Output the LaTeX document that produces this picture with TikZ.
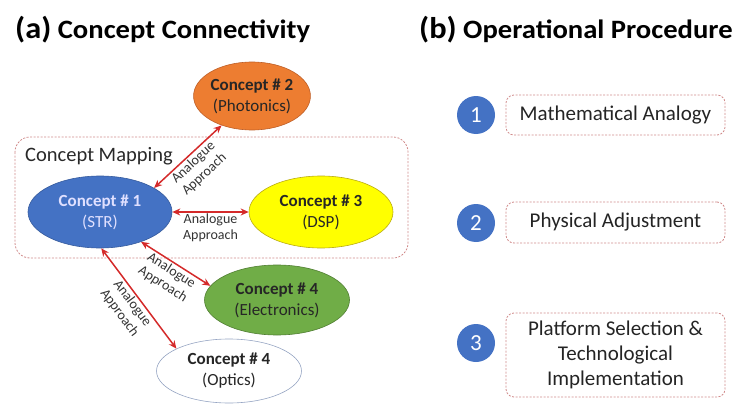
\documentclass[tikz,border=0pt]{standalone}
\usepackage{fontspec}
\setmainfont{Carlito}
\newfontfamily\headfont[FakeStretch=1.08]{Carlito}
\usetikzlibrary{shapes.geometric,arrows.meta}

\definecolor{stepblue}{HTML}{4472C4}
\definecolor{dashred}{HTML}{D08A8A}
\definecolor{linkred}{HTML}{D42A2A}
\definecolor{labelgray}{HTML}{333333}
\definecolor{orangefill}{RGB}{237,125,49}
\definecolor{orangeline}{RGB}{190,95,40}
\definecolor{yellowfill}{RGB}{255,255,0}
\definecolor{yellowline}{RGB}{185,170,20}
\definecolor{greenfill}{RGB}{112,173,71}
\definecolor{greenline}{RGB}{80,126,50}
\definecolor{opticsline}{RGB}{150,165,195}

\tikzset{
  concept/.style={ellipse, draw, line width=0.6pt, inner sep=0pt, align=center,
    font=\fontsize{17}{21}\selectfont},
  mapbox/.style={draw=dashred, line width=0.8pt, dash pattern=on 2pt off 1.5pt},
  stepbox/.style={mapbox, rounded corners=8pt, minimum width=219pt, align=center,
    text=labelgray!70!black, font=\fontsize{21}{25}\selectfont},
  stepnum/.style={circle, fill=stepblue, minimum size=38pt, inner sep=0pt,
    text=white, font=\fontsize{23}{23}\selectfont},
  link/.style={draw=linkred, line width=1.5pt,
    {Stealth[length=8pt,width=7pt]}-{Stealth[length=8pt,width=7pt]}},
  linklabel/.style={sloped, below, inner sep=1.5pt, align=center, text=labelgray,
    font=\fontsize{14}{16}\selectfont},
  heading/.style={anchor=base west, font=\headfont\bfseries\fontsize{26.5}{27}\selectfont}
}

\begin{document}
\begin{tikzpicture}[x=1pt, y=-1pt]
\useasboundingbox (0,0) rectangle (733,404);

% headings
\node[heading, inner sep=0pt] (ta) at (15,38) {{\fontsize{30}{30}\selectfont (a)} Concept Connectivity};
\node[heading, inner sep=0pt] (tb) at (419,38) {{\fontsize{30}{30}\selectfont (b)} Operational Procedure};

% concept mapping region
\draw[mapbox, rounded corners=15pt] (15,137) rectangle (408,258);
\node[anchor=west, inner sep=0pt, font=\fontsize{20.5}{21}\selectfont, text=labelgray!80!black] (cm) at (25,156) {Concept Mapping};

% concepts
\node[concept, fill=stepblue, draw=stepblue!80!black, text=white!88!blue,
  minimum width=144pt, minimum height=72pt] (c1) at (100,212)
  {\textbf{Concept \# 1}\\(STR)};
\node[concept, fill=orangefill, draw=orangeline, text=black!85,
  minimum width=96pt, minimum height=68pt] (c2) at (252,96)
  {\textbf{Concept \# 2}\\(Photonics)};
\node[concept, fill=yellowfill, draw=yellowline,
  text=black!85, minimum width=144pt, minimum height=72pt] (c3) at (321,212)
  {\textbf{Concept \# 3}\\(DSP)};
\node[concept, fill=greenfill, draw=greenline,
  text=black!85, minimum width=145pt, minimum height=70pt] (c4) at (277,300)
  {\textbf{Concept \# 4}\\(Electronics)};
\node[concept, fill=white, draw=opticsline,
  text=black!85, minimum width=145pt, minimum height=64pt] (c5) at (229,371)
  {\textbf{Concept \# 4}\\(Optics)};

% analogue links
\draw[link] (c1.24) -- node[linklabel] {Analogue\\Approach} (c2.224);
\draw[link] (c1.east) -- node[linklabel] {Analogue\\Approach} (c3.west);
\draw[link] (c1.-36) -- node[linklabel] {Analogue\\Approach} (c4.168);
\draw[link] (c1.-88) -- node[linklabel] {Analogue\\Approach} (c5.157);

% operational steps
\node[stepnum] (n1) at (476,115) {1};
\node[stepnum] (n2) at (476,223) {2};
\node[stepnum] (n3) at (476,343) {3};
\node[stepbox, minimum height=40pt] (s1) at (615.5,115) {Mathematical Analogy};
\node[stepbox, minimum height=41pt] (s2) at (615.5,222.5) {Physical Adjustment};
\node[stepbox, minimum height=84pt] (s3) at (615.5,355)
  {Platform Selection \&\\Technological\\Implementation};
\end{tikzpicture}
\end{document}
